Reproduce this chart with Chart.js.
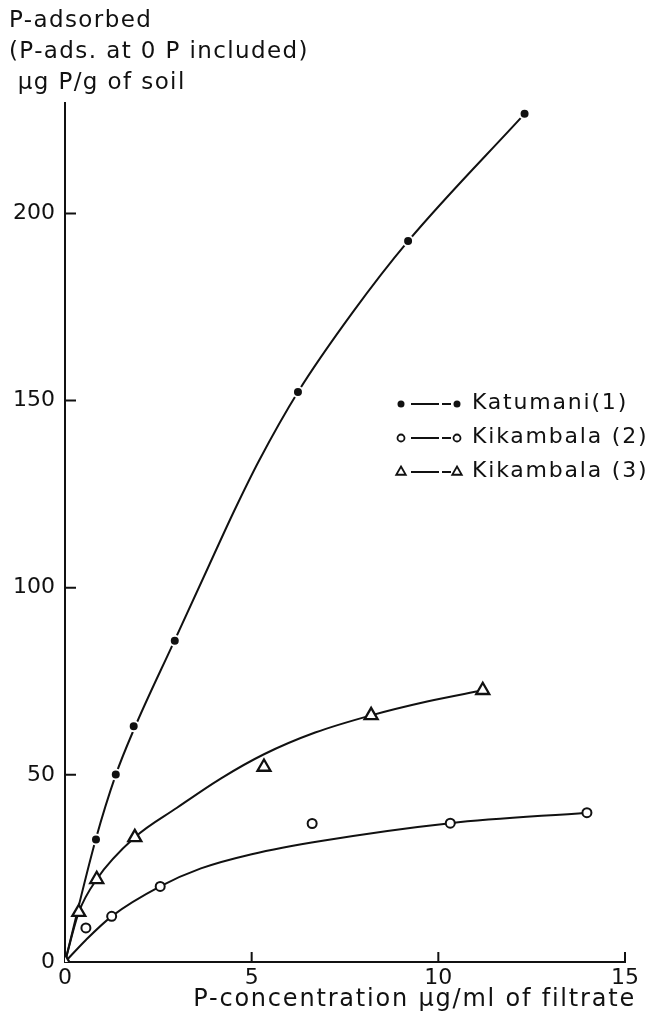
<!DOCTYPE html>
<html>
<head>
<meta charset="utf-8">
<script src="https://cdn.jsdelivr.net/npm/chart.js@4/dist/chart.umd.min.js"></script>
<style>
  html, body { margin: 0; padding: 0; background: #fff; }
  canvas { display: block; }
</style>
</head>
<body>
<canvas id="chart" width="654" height="1018"></canvas>
<script>
// Axis ticks
const xTicks = [0, 5, 10, 15];
const yTicks = [0, 50, 100, 150, 200];

const katumaniX = [0.83, 1.36, 1.84, 2.94, 6.24, 9.19, 12.31];
const katumaniY = [32.7, 50.1, 63.0, 85.8, 152.3, 192.6, 226.6];

const kikambala2X = [0.56, 1.25, 2.55, 6.62, 10.32, 13.98];
const kikambala2Y = [9.1, 12.2, 20.2, 37.0, 37.1, 39.9];

const kikambala3X = [0, 0.37, 0.85, 1.87, 5.33, 8.20, 11.19];
const kikambala3Y = [0, 13.3, 22.1, 33.3, 52.1, 65.9, 72.6];

// Hand-drawn fitted curves
const katumaniCurveX = [0, 0.83, 1.36, 1.84, 2.94, 3.86, 4.53, 5.2, 6.24, 7.7, 9.19, 12.31];
const katumaniCurveY = [0, 33.0, 50.0, 62.0, 86.0, 106.0, 120.5, 134.0, 152.3, 173.5, 192.6, 226.6];

const kikambala2CurveX = [0, 0.56, 1.25, 2.55, 3.64, 5.0, 6.9, 10.32, 13.98];
const kikambala2CurveY = [0, 5.9, 12.2, 20.2, 25.0, 28.8, 32.4, 37.1, 39.9];

const kikambala3CurveX = [0, 0.37, 0.85, 1.87, 3.0, 4.17, 5.33, 6.7, 8.2, 9.7, 11.19];
const kikambala3CurveY = [0, 13.3, 22.1, 33.3, 41.2, 49.0, 55.5, 61.3, 65.9, 69.6, 72.6];

const legendLabels = ["Katumani(1)", "Kikambala (2)", "Kikambala (3)"];
const yTitle = ["P-adsorbed", "(P-ads. at 0 P included)", " \u00b5g P/g of soil"];
const xTitle = "P-concentration \u00b5g/ml of filtrate";

const INK = "#111";
const FONT = "'DejaVu Sans', sans-serif";

const pts = (xs, ys) => xs.map((x, i) => ({ x, y: ys[i] }));

const MARKERS = [
  { pointStyle: "circle", radius: 5, backgroundColor: INK, borderColor: "#fff", borderWidth: 2 },
  { pointStyle: "circle", radius: 4.5, backgroundColor: "#fff", borderColor: INK, borderWidth: 2 },
  { pointStyle: "triangle", radius: 7.5, backgroundColor: "#fff", borderColor: INK, borderWidth: 2.3 },
];

const curve = (xs, ys) => ({
  data: pts(xs, ys),
  showLine: true,
  borderColor: INK,
  borderWidth: 2,
  pointRadius: 0,
  cubicInterpolationMode: "monotone",
  order: 5,
});

const markers = (xs, ys, m) => ({
  data: pts(xs, ys),
  showLine: false,
  pointStyle: m.pointStyle,
  pointRadius: m.radius,
  pointBackgroundColor: m.backgroundColor,
  pointBorderColor: m.borderColor,
  pointBorderWidth: m.borderWidth,
  order: 1,
});

// inward ticks, titles and the hand-drawn style legend
const decor = {
  id: "decor",
  afterDraw(chart) {
    const { ctx, chartArea: a, scales: { x, y } } = chart;
    ctx.save();
    ctx.strokeStyle = INK;
    ctx.lineWidth = 2;
    ctx.beginPath();
    xTicks.slice(1).forEach((v) => {
      const px = x.getPixelForValue(v);
      ctx.moveTo(px, a.bottom);
      ctx.lineTo(px, a.bottom - 10);
    });
    yTicks.slice(1).forEach((v) => {
      const py = y.getPixelForValue(v);
      ctx.moveTo(a.left, py);
      ctx.lineTo(a.left + 11, py);
    });
    ctx.stroke();

    ctx.fillStyle = INK;
    ctx.textBaseline = "middle";
    ctx.font = "23px " + FONT;
    ctx.letterSpacing = "1.4px";
    yTitle.forEach((t, i) => ctx.fillText(t, 9, 21 + i * 31));

    ctx.font = "24px " + FONT;
    ctx.letterSpacing = "1.8px";
    ctx.textAlign = "right";
    ctx.fillText(xTitle, 636, 1000);

    // legend
    ctx.textAlign = "left";
    ctx.font = "22px " + FONT;
    ctx.letterSpacing = "1.8px";
    const draw = Chart.helpers.drawPoint;
    legendLabels.forEach((label, i) => {
      const cy = a.top + 300 + i * 34;
      const m = MARKERS[i];
      const small = {
        pointStyle: m.pointStyle,
        radius: m.pointStyle === "triangle" ? 5.5 : 3.5,
        rotation: 0,
        borderWidth: m.borderColor === "#fff" ? 0 : 1.8,
      };
      ctx.fillStyle = m.backgroundColor === INK ? INK : "#fff";
      ctx.strokeStyle = INK;
      [401, 457].forEach((cx) => {
        ctx.lineWidth = small.borderWidth;
        draw(ctx, small, cx, cy + 1);
      });
      ctx.lineWidth = 2;
      ctx.beginPath();
      ctx.moveTo(411, cy + 1); ctx.lineTo(439, cy + 1);
      ctx.moveTo(442, cy + 1); ctx.lineTo(451, cy + 1);
      ctx.stroke();
      ctx.fillStyle = INK;
      ctx.fillText(label, 472, cy);
    });
    ctx.restore();
  },
};

new Chart(document.getElementById("chart"), {
  type: "scatter",
  data: {
    datasets: [
      curve(katumaniCurveX, katumaniCurveY),
      curve(kikambala2CurveX, kikambala2CurveY),
      curve(kikambala3CurveX, kikambala3CurveY),
      markers(katumaniX, katumaniY, MARKERS[0]),
      markers(kikambala2X, kikambala2Y, MARKERS[1]),
      markers(kikambala3X, kikambala3Y, MARKERS[2]),
    ],
  },
  options: {
    responsive: false,
    animation: false,
    layout: { padding: { left: 0, right: 29, top: 103, bottom: 0 } },
    plugins: { legend: { display: false }, tooltip: { enabled: false } },
    scales: {
      x: {
        type: "linear",
        min: 0,
        max: 15,
        afterBuildTicks: (s) => { s.ticks = xTicks.map((v) => ({ value: v })); },
        afterFit: (s) => { s.height = 56; },
        grid: { display: false, drawTicks: false },
        border: { display: true, color: INK, width: 2 },
        ticks: { color: INK, font: { family: FONT, size: 22 }, padding: 3, maxRotation: 0, autoSkip: false },
      },
      y: {
        type: "linear",
        min: 0,
        max: 229.5,
        afterBuildTicks: (s) => { s.ticks = yTicks.map((v) => ({ value: v })); },
        afterFit: (s) => { s.width = 65; },
        grid: { display: false, drawTicks: false },
        border: { display: true, color: INK, width: 2 },
        ticks: { color: INK, font: { family: FONT, size: 22 }, padding: 10 },
      },
    },
  },
  plugins: [decor],
});
</script>
</body>
</html>
